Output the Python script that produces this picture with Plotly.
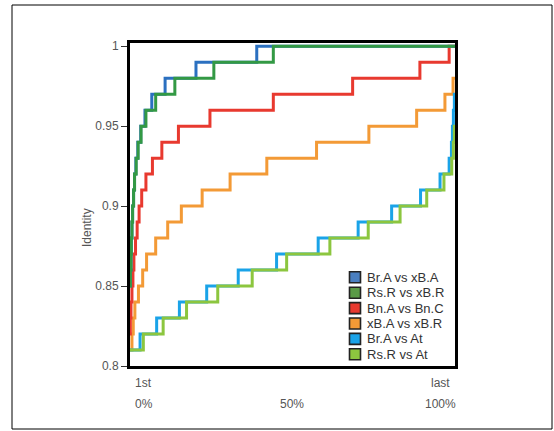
import plotly.graph_objects as go

# ---------------- data ----------------
series_names = ["Br.A vs xB.A", "Rs.R vs xB.R", "Bn.A vs Bn.C",
                "xB.A vs xB.R", "Br.A vs At", "Rs.R vs At"]
series_colors = ["#2b70c0", "#339944", "#e8392f", "#f39a36", "#1aa3e8", "#8cc63f"]
legend_colors = ["#4a7fc0", "#5a9a47", "#e8392f", "#f39a36", "#1aa3e8", "#8cc63f"]

# step-function breakpoints (fraction of ranked comparisons, 0..1) and identity levels
brA_xbA_x = [0, 0.001, 0.003, 0.004, 0.006, 0.008, 0.011, 0.014, 0.018, 0.024, 0.033, 0.046, 0.067, 0.108, 0.203, 0.390, 1.0]
brA_xbA_y = [0.85, 0.86, 0.87, 0.88, 0.89, 0.90, 0.91, 0.92, 0.93, 0.94, 0.95, 0.96, 0.97, 0.98, 0.99, 1.0, 1.0]

rsR_xbR_x = [0, 0.001, 0.003, 0.004, 0.006, 0.008, 0.011, 0.014, 0.019, 0.025, 0.034, 0.049, 0.079, 0.138, 0.258, 0.441, 1.0]
rsR_xbR_y = [0.85, 0.86, 0.87, 0.88, 0.89, 0.90, 0.91, 0.92, 0.93, 0.94, 0.95, 0.96, 0.97, 0.98, 0.99, 1.0, 1.0]

bnA_bnC_x = [0, 0.001, 0.003, 0.006, 0.009, 0.012, 0.017, 0.022, 0.028, 0.036, 0.049, 0.069, 0.098, 0.149, 0.246, 0.441, 0.685, 0.892, 0.982, 1.0]
bnA_bnC_y = [0.82, 0.83, 0.84, 0.85, 0.86, 0.87, 0.88, 0.89, 0.90, 0.91, 0.92, 0.93, 0.94, 0.95, 0.96, 0.97, 0.98, 0.99, 1.0, 1.0]

xbA_xbR_x = [0, 0.006, 0.010, 0.015, 0.026, 0.039, 0.051, 0.079, 0.116, 0.158, 0.222, 0.308, 0.421, 0.574, 0.735, 0.882, 0.969, 0.994, 1.0]
xbA_xbR_y = [0.81, 0.82, 0.83, 0.84, 0.85, 0.86, 0.87, 0.88, 0.89, 0.90, 0.91, 0.92, 0.93, 0.94, 0.95, 0.96, 0.97, 0.98, 0.98]

brA_at_x = [0, 0.031, 0.082, 0.152, 0.236, 0.333, 0.451, 0.579, 0.702, 0.805, 0.894, 0.954, 0.982, 0.989, 0.992, 0.995, 0.998, 1.0]
brA_at_y = [0.81, 0.82, 0.83, 0.84, 0.85, 0.86, 0.87, 0.88, 0.89, 0.90, 0.91, 0.92, 0.93, 0.94, 0.95, 0.96, 0.97, 0.97]

rsR_at_x = [0, 0.041, 0.102, 0.174, 0.270, 0.376, 0.482, 0.615, 0.733, 0.831, 0.913, 0.966, 0.990, 0.995, 0.998, 1.0]
rsR_at_y = [0.81, 0.82, 0.83, 0.84, 0.85, 0.86, 0.87, 0.88, 0.89, 0.90, 0.91, 0.92, 0.93, 0.94, 0.95, 0.95]

y_ticks = [0.8, 0.85, 0.9, 0.95, 1.0]
y_tick_text = ["0.8", "0.85", "0.9", "0.95", "1"]
rank_labels = ["1st", "last"]
pct_labels = ["0%", "50%", "100%"]
pct_positions = [0.0, 0.5, 1.0]

series_x = [brA_xbA_x, rsR_xbR_x, bnA_bnC_x, xbA_xbR_x, brA_at_x, rsR_at_x]
series_y = [brA_xbA_y, rsR_xbR_y, bnA_bnC_y, xbA_xbR_y, brA_at_y, rsR_at_y]
draw_order = [3, 2, 0, 1, 4, 5]

# ---------------- layout geometry ----------------
W, H = 554, 431
L, R, T, B = 130, 455, 43, 366


def xp(px):
    return (px - L) / (R - L)


def yp(py):
    return (B - py) / (B - T)


fig = go.Figure()
for i in draw_order:
    fig.add_trace(go.Scatter(
        x=series_x[i], y=series_y[i], mode="lines", name=series_names[i],
        line=dict(color=series_colors[i], width=3, shape="hv"),
        showlegend=False, hoverinfo="skip"))

shapes = []
annotations = []

# outer frame
shapes.append(dict(type="rect", xref="paper", yref="paper",
                   x0=xp(12), x1=xp(552), y0=yp(429), y1=yp(5),
                   line=dict(color="black", width=1), fillcolor="rgba(0,0,0,0)"))

# manual legend (square swatches with dark border)
leg_top = 277.3
leg_step = 15.4
for k, name in enumerate(series_names):
    cy = leg_top + k * leg_step
    shapes.append(dict(type="rect", xref="paper", yref="paper",
                       x0=xp(349.5), x1=xp(360.5), y0=yp(cy + 5.5), y1=yp(cy - 5.5),
                       line=dict(color="#222222", width=1.6), fillcolor=legend_colors[k]))
    annotations.append(dict(text=name, xref="paper", yref="paper",
                            x=xp(364.5), y=yp(cy), xanchor="left", yanchor="middle",
                            showarrow=False, font=dict(size=13, color="#333333")))

# x labels
lab_font = dict(size=12, color="#555555", family="Liberation Sans, Arial, sans-serif")
for txt, px in zip(rank_labels, [143.5, 440]):
    annotations.append(dict(text=txt, xref="paper", yref="paper", x=xp(px), y=yp(382.5),
                            xanchor="center", yanchor="middle", showarrow=False, font=lab_font))
x_left, x_right = 143.5, 440
for txt, f in zip(pct_labels, pct_positions):
    px = x_left + f * (x_right - x_left)
    annotations.append(dict(text=txt, xref="paper", yref="paper", x=xp(px), y=yp(403.5),
                            xanchor="center", yanchor="middle", showarrow=False, font=lab_font))

# y title
annotations.append(dict(text="Identity", xref="paper", yref="paper", x=xp(87), y=yp(228),
                        textangle=-90, xanchor="center", yanchor="middle", showarrow=False,
                        font=dict(size=12, color="#555555")))

fig.update_layout(
    width=W, height=H,
    margin=dict(l=L, r=W - R, t=T, b=H - B, pad=0),
    paper_bgcolor="white", plot_bgcolor="white",
    font=dict(family="Liberation Sans, Arial, sans-serif", size=12, color="#555555"),
    showlegend=False,
    shapes=shapes, annotations=annotations,
    xaxis=dict(range=[0, 1], showgrid=False, zeroline=False, showticklabels=False,
               ticks="", showline=True, linewidth=3, linecolor="black", mirror=True),
    yaxis=dict(range=[0.8, 1.002], tickvals=y_ticks, ticktext=y_tick_text,
               showgrid=False, zeroline=False, ticks="outside", ticklen=6, tickwidth=1,
               tickcolor="#333333", tickfont=dict(size=12, color="#555555"),
               showline=True, linewidth=3, linecolor="black", mirror=True),
)

fig.write_html("out.html", config={"displayModeBar": False},
               post_script="document.body.style.margin='0';document.body.style.overflow='hidden';")
